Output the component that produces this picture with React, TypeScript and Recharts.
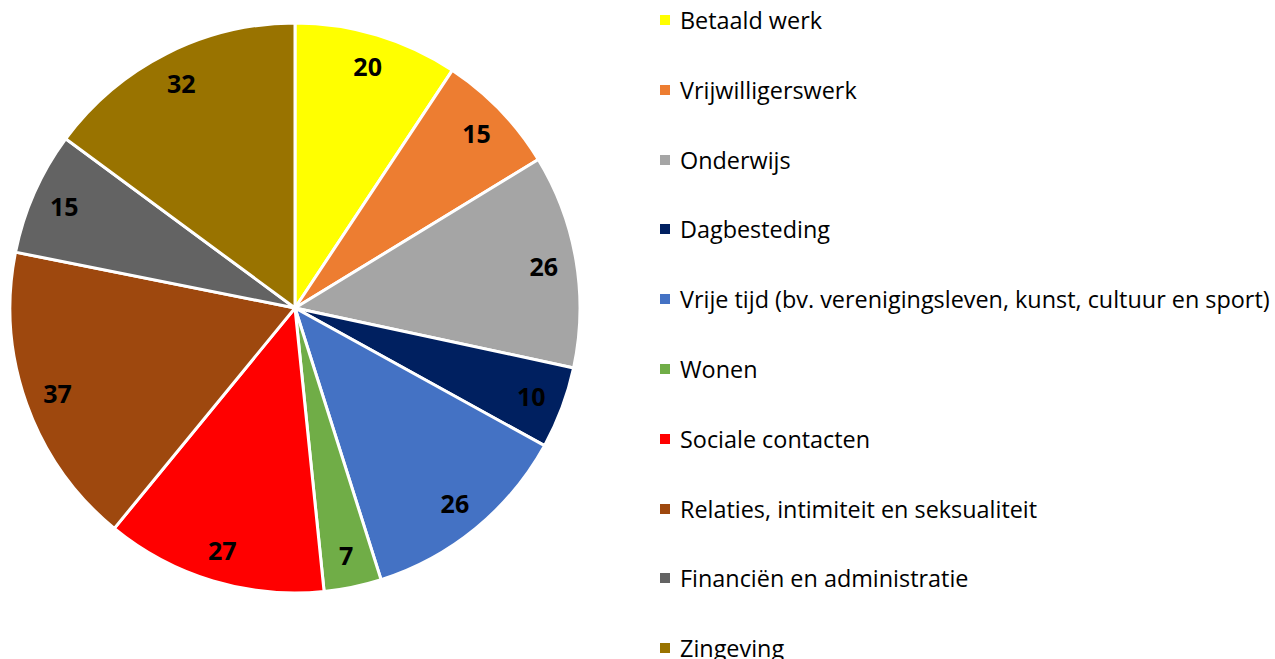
import React from 'react';
import { PieChart, Pie, Cell, Legend } from 'recharts';

const categories = [
  'Betaald werk',
  'Vrijwilligerswerk',
  'Onderwijs',
  'Dagbesteding',
  'Vrije tijd (bv. verenigingsleven, kunst, cultuur en sport)',
  'Wonen',
  'Sociale contacten',
  'Relaties, intimiteit en seksualiteit',
  'Financiën en administratie',
  'Zingeving',
];
const values = [20, 15, 26, 10, 26, 7, 27, 37, 15, 32];
const colors = [
  '#FFFF00',
  '#ED7D31',
  '#A5A5A5',
  '#002060',
  '#4472C4',
  '#70AD47',
  '#FF0000',
  '#9E480E',
  '#636363',
  '#997300',
];

const data = categories.map((name, i) => ({ name, value: values[i] }));

const RAD = Math.PI / 180;
const FONT = '"Open Sans", sans-serif';

const renderLabel = (props: any) => {
  const { cx, cy, midAngle, outerRadius, value } = props;
  const r = outerRadius * 0.885;
  const x = cx + r * Math.cos(-midAngle * RAD);
  const y = cy + r * Math.sin(-midAngle * RAD);
  return (
    <text
      x={x}
      y={y}
      textAnchor="middle"
      dominantBaseline="central"
      fontFamily={FONT}
      fontWeight={700}
      fontSize={25}
      fill="#000"
    >
      {value}
    </text>
  );
};

const renderLegend = (props: any) => {
  const payload = [...(props.payload || [])].sort(
    (a: any, b: any) => categories.indexOf(a.value) - categories.indexOf(b.value)
  );
  return (
    <div style={{ position: 'relative', width: 615, height: 659 }}>
      {payload.map((entry: any, i: number) => (
        <div
          key={i}
          style={{
            position: 'absolute',
            left: 0,
            top: 20 + i * 69.8 - 15,
            height: 30,
            display: 'flex',
            alignItems: 'center',
            whiteSpace: 'nowrap',
            fontFamily: FONT,
            fontSize: 23.4,
            color: '#000',
          }}
        >
          <span
            style={{
              display: 'inline-block',
              width: 10,
              height: 10,
              background: entry.color,
              marginRight: 10,
            }}
          />
          <span>{entry.value}</span>
        </div>
      ))}
    </div>
  );
};

export default function App() {
  return (
    <div style={{ position: 'absolute', left: 0, top: 0, width: 1275, height: 659, background: '#fff', overflow: 'hidden' }}>
      <PieChart width={1275} height={659} margin={{ top: 0, right: 0, bottom: 0, left: 0 }}>
        <Pie
          data={data}
          dataKey="value"
          nameKey="name"
          cx={295}
          cy={308}
          outerRadius={285}
          startAngle={90}
          endAngle={-270}
          stroke="#FFFFFF"
          strokeWidth={3}
          label={renderLabel}
          labelLine={false}
          isAnimationActive={false}
        >
          {data.map((d, i) => (
            <Cell key={d.name} fill={colors[i]} />
          ))}
        </Pie>
        <Legend
          itemSorter={null as any}
          content={renderLegend}
          wrapperStyle={{ position: 'absolute', left: 660, top: 0, width: 615, height: 659 }}
        />
      </PieChart>
    </div>
  );
}
